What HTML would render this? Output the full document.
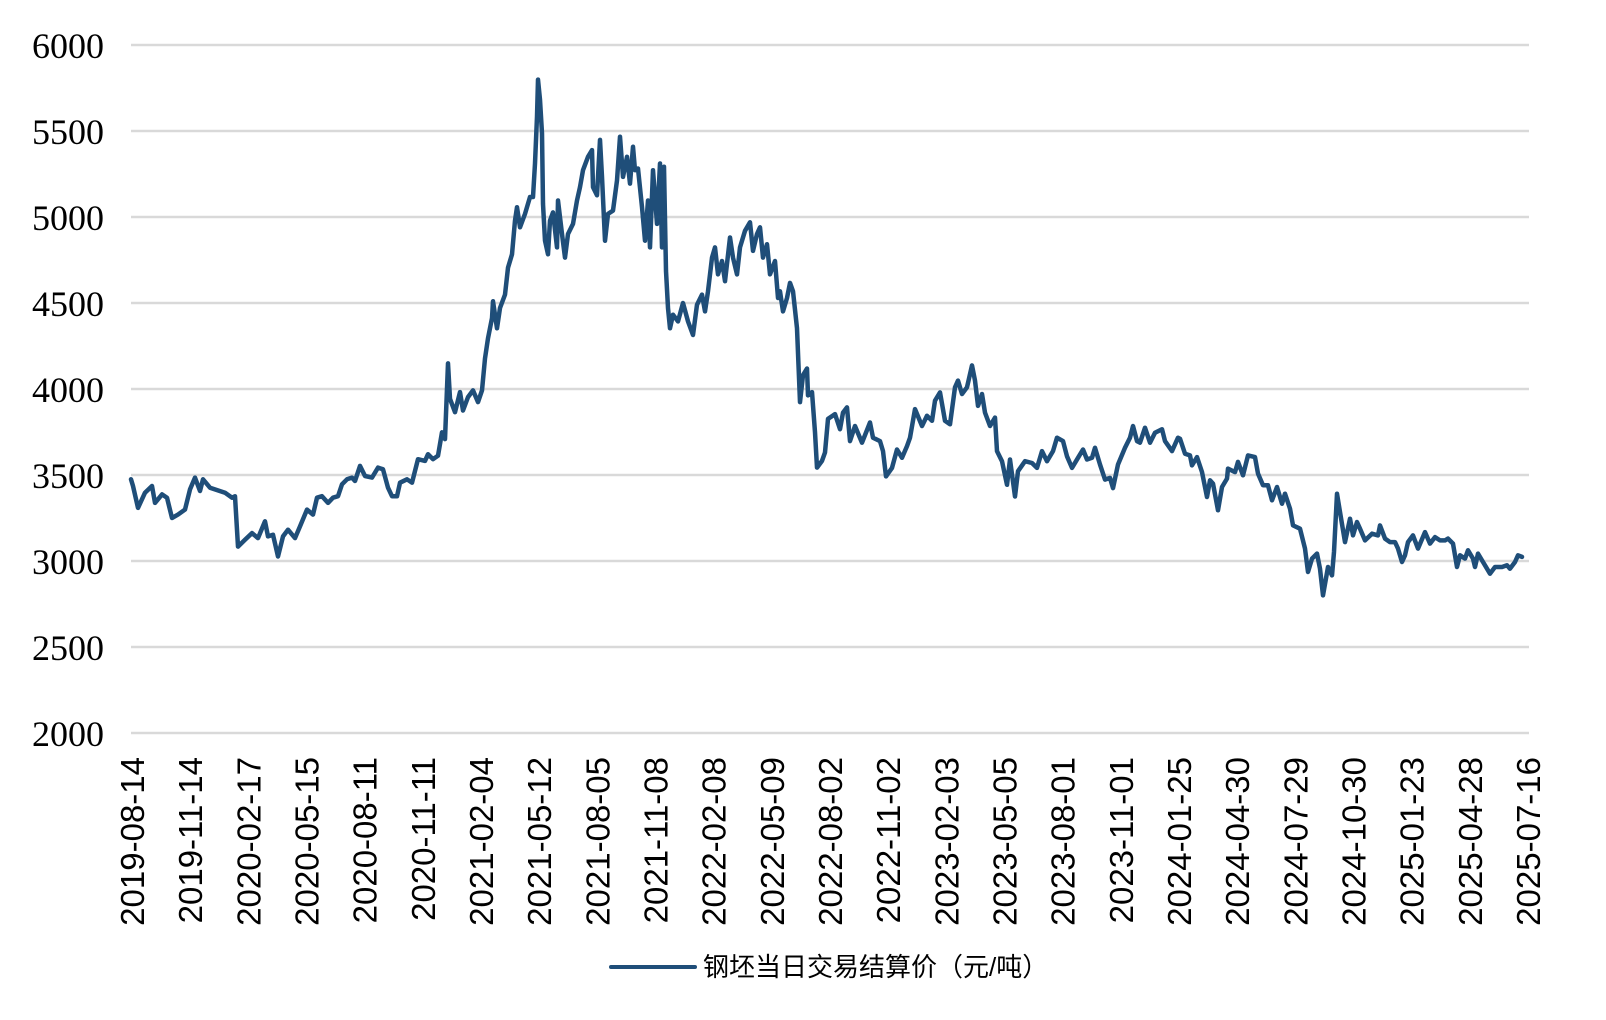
<!DOCTYPE html>
<html><head><meta charset="utf-8">
<style>
html,body{margin:0;padding:0;background:#fff;}
svg{display:block;}
</style></head>
<body>
<svg id="chart" width="1606" height="1020" viewBox="0 0 1606 1020" xmlns="http://www.w3.org/2000/svg">
  <g id="grid"></g>
  <g id="yaxis"></g>
  <g id="xaxis"></g>
  <g id="series"></g>
  <g>
    <line x1="611" y1="967" x2="695" y2="967" stroke="#1f4e79" stroke-width="4" stroke-linecap="round"/>
    <text x="703" y="976" font-family="'Liberation Sans','Noto Sans CJK SC',sans-serif" font-size="26" fill="#000">钢坯当日交易结算价（元/吨）</text>
  </g>
</svg>
<script>
const yTicks = [2000, 2500, 3000, 3500, 4000, 4500, 5000, 5500, 6000];
const xTickLabels = ["2019-08-14","2019-11-14","2020-02-17","2020-05-15","2020-08-11","2020-11-11","2021-02-04","2021-05-12","2021-08-05","2021-11-08","2022-02-08","2022-05-09","2022-08-02","2022-11-02","2023-02-03","2023-05-05","2023-08-01","2023-11-01","2024-01-25","2024-04-30","2024-07-29","2024-10-30","2025-01-23","2025-04-28","2025-07-16"];
const dayIndex = [0,2,7,14,21,24,31,36,41,47,54,59,64,69,72,79,94,101,104,107,114,121,127,134,137,142,147,152,157,164,169,176,182,186,191,197,202,207,211,216,221,224,229,234,241,247,252,257,261,266,269,276,281,287,294,297,302,307,311,314,317,319,324,329,332,337,342,347,
351,354,357,361,362,366,369,374,377,381,384,386,389,394,399,402,404,406,407,409,411,412,414,417,419,422,426,427,431,434,437,442,446,449,452,457,461,462,466,469,471,474,477,482,486,489,492,496,499,502,504,507,511,514,517,519,522,526,529,531,533,535,537,539,542,547,552,557,562,566,571,574,577,581,584,587,591,594,599,602,606,609,614,619,622,626,629,632,636,639,644,647,649,652,656,659,662,666,669,672,676,677,681,684,686,691,694,697,702,
704,709,712,716,719,724,731,739,742,749,752,755,761,766,771,776,779,784,791,796,801,804,809,814,819,824,827,831,836,841,844,847,851,854,859,864,866,871,876,879,884,887,894,901,906,911,916,922,926,932,936,941,947,952,956,961,964,969,974,979,982,987,994,999,1002,1006,1009,1014,1019,1024,1031,1034,1041,1047,
1049,1054,1059,1061,1066,1071,1076,1079,1082,1087,1091,1096,1097,1104,1107,1112,1117,1124,1127,1132,1137,1141,1146,1151,1154,1159,1162,1169,1174,1177,1181,1186,1189,1192,1197,1201,1203,1206,1209,1214,1219,1222,1226,1229,1234,1241,1247,1249,1254,1259,1264,1267,1271,1274,1277,1282,1287,1294,1299,1304,1309,1314,1317,1322,1326,1329,1334,1337,1342,1344,1347,1352,1359,1364,1371,1376,1379,1384,1387,1391];
const prices = [3475,3436,3309,3397,3436,3338,3387,3368,3250,3270,3299,3416,3485,3407,3475,3426,3397,3368,3377,3084,3123,3162,3133,3231,3143,3153,3026,3143,3182,3133,3201,3299,3270,3368,3377,3338,3368,3377,3446,3475,3485,3465,3553,3494,3485,3543,3533,3426,3377,3377,3455,3475,3455,3592,3582,3621,3592,3612,3748,3709,4149,3943,3865,3982,3875,3953,3992,3924,
3992,4178,4295,4412,4510,4353,4471,4549,4705,4783,4979,5057,4940,5018,5116,5116,5311,5584,5799,5682,5486,5076,4862,4783,4979,5027,4823,5096,4901,4764,4901,4960,5096,5174,5272,5350,5389,5174,5126,5448,5233,4862,5018,5037,5213,5467,5233,5350,5194,5408,5272,5282,5057,4862,5096,4823,5272,4960,5311,4823,5292,4686,4471,4353,4432,4393,4500,4393,4314,4490,4549,4451,4568,4764,4823,4666,4744,4627,4881,4764,4666,4823,4920,4969,4803,4901,4940,4764,4842,4666,4744,4529,4568,4451,4529,4617,4568,4353,3924,4080,4119,3963,3982,3748,3543,3582,3631,3826,3846,
3854,3766,3863,3893,3697,3785,3688,3805,3717,3697,3639,3492,3541,3648,3600,3668,3717,3883,3785,3844,3815,3932,3980,3815,3795,4010,4049,3971,4010,4137,4049,3902,3971,3863,3785,3834,3639,3580,3443,3590,3375,3522,3580,3570,3541,3639,3580,3639,3717,3697,3609,3541,3600,3648,3590,3600,3658,3561,3473,3483,3424,3561,3658,3717,3785,3697,3688,3775,3688,3746,3766,3697,3639,3717,
3711,3624,3614,3556,3604,3517,3372,3469,3450,3295,3430,3479,3537,3517,3576,3498,3614,3604,3508,3440,3440,3353,3430,3333,3391,3304,3207,3188,3072,2936,3014,3043,2955,2800,2965,2916,3053,3391,3285,3110,3246,3149,3227,3188,3120,3159,3149,3207,3130,3110,3110,3072,2994,3033,3110,3149,3072,3168,3101,3139,3120,3120,3130,3101,2965,3033,3014,3062,3014,2965,3043,2994,2926,2965,2965,2975,2955,2994,3033,3024];

const NS = "http://www.w3.org/2000/svg";
const X0 = 131, X1 = 1529, DAY_MAX = 1398;
const Y_TOP = 45, Y_BOT = 733, V_MIN = 2000, V_MAX = 6000;
function xScale(d){ return X0 + (d / DAY_MAX) * (X1 - X0); }
function yScale(v){ return Y_BOT - (v - V_MIN) / (V_MAX - V_MIN) * (Y_BOT - Y_TOP); }

const grid = document.getElementById('grid');
const yaxis = document.getElementById('yaxis');
yTicks.forEach(function(t){
  const y = yScale(t);
  const ln = document.createElementNS(NS, 'line');
  
  
  ln.setAttribute('x1', X0); ln.setAttribute('x2', X1);
  ln.setAttribute('y1', y); ln.setAttribute('y2', y);
  ln.setAttribute('stroke', '#d9d9d9'); ln.setAttribute('stroke-width', '2.5');
  grid.appendChild(ln);
  const tx = document.createElementNS(NS, 'text');
  
  
  tx.setAttribute('x', 104); tx.setAttribute('y', y + 13);
  tx.setAttribute('text-anchor', 'end');
  tx.setAttribute('font-family', "'Liberation Serif', serif");
  tx.setAttribute('font-size', '36');
  tx.setAttribute('fill', '#000');
  tx.textContent = t;
  yaxis.appendChild(tx);
});

const xaxis = document.getElementById('xaxis');
const n = xTickLabels.length;
xTickLabels.forEach(function(lbl, i){
  const x = 132 + i * (1528 - 132) / (n - 1);
  const tx = document.createElementNS(NS, 'text');
  
  
  tx.setAttribute('transform', 'translate(' + (x + 12) + ',757) rotate(-90)');
  tx.setAttribute('text-anchor', 'end');
  tx.setAttribute('font-family', "'Liberation Sans', sans-serif");
  tx.setAttribute('font-size', '33');
  tx.setAttribute('fill', '#000');
  tx.textContent = lbl;
  xaxis.appendChild(tx);
});

const series = document.getElementById('series');
let d = '';
for (let i = 0; i < prices.length; i++) {
  d += (i ? 'L' : 'M') + xScale(dayIndex[i]).toFixed(1) + ',' + yScale(prices[i]).toFixed(1);
}
const path = document.createElementNS(NS, 'path');


path.setAttribute('d', d);
path.setAttribute('fill', 'none');
path.setAttribute('stroke', '#1f4e79');
path.setAttribute('stroke-width', '4.5');
path.setAttribute('stroke-linejoin', 'round');
path.setAttribute('stroke-linecap', 'round');
series.appendChild(path);
</script>
</body></html>
